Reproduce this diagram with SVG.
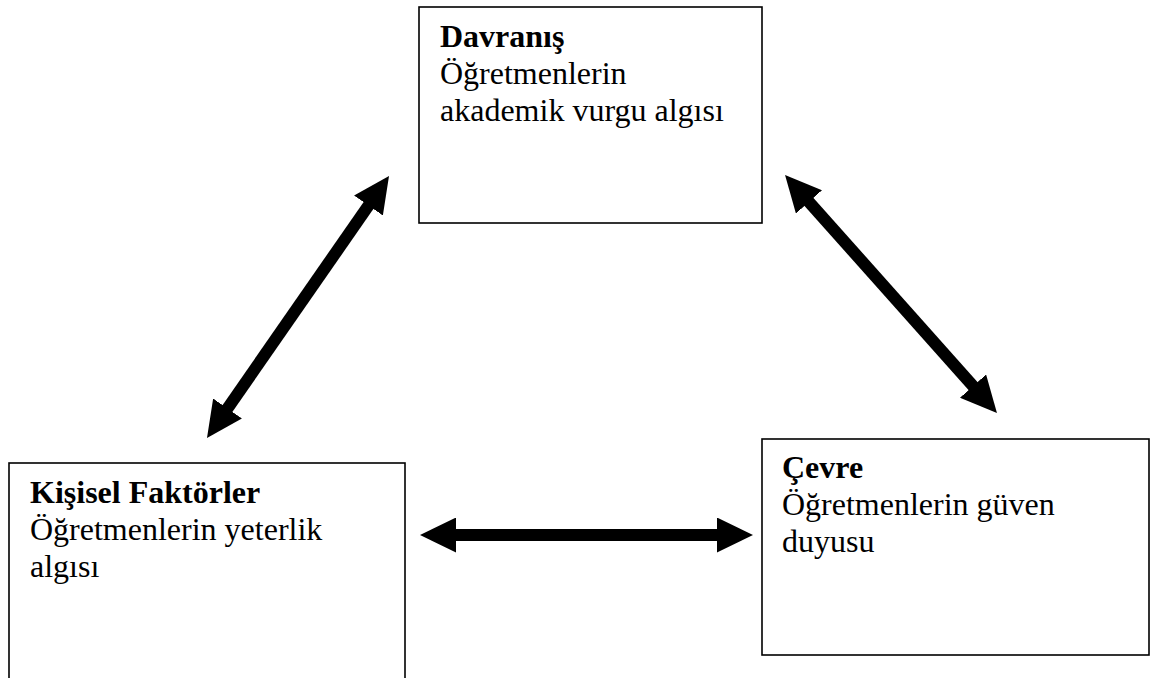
<svg xmlns="http://www.w3.org/2000/svg" width="1153" height="678" viewBox="0 0 1153 678">
<style>
.box{fill:#fff;stroke:#000;stroke-width:1.6}
.t{font-family:"Liberation Serif","Times New Roman",serif;font-size:32px;fill:#000}
.b{font-weight:bold}
.arr{stroke:#000;stroke-width:12;fill:none;marker-start:url(#head);marker-end:url(#head)}
</style>
<defs>
<marker id="head" markerUnits="userSpaceOnUse" markerWidth="36" markerHeight="35" refX="6" refY="17.5" orient="auto-start-reverse" viewBox="0 0 36 35">
<path d="M0,0 L36,17.5 L0,35 z" fill="#000"/>
</marker>
</defs>
<rect width="1153" height="678" fill="#fff"/>
<g id="davranis">
<rect class="box" x="419" y="7" width="343" height="216"/>
<text class="t b" x="440" y="47">Davranış</text>
<text class="t" x="440" y="84">Öğretmenlerin</text>
<text class="t" x="440" y="121">akademik vurgu algısı</text>
</g>
<g id="kisisel">
<rect class="box" x="9" y="463" width="396" height="240"/>
<text class="t b" x="30" y="503">Kişisel Faktörler</text>
<text class="t" x="30" y="540">Öğretmenlerin yeterlik</text>
<text class="t" x="30" y="577">algısı</text>
</g>
<g id="cevre">
<rect class="box" x="762" y="439" width="387" height="216"/>
<text class="t b" x="782" y="478">Çevre</text>
<text class="t" x="782" y="515">Öğretmenlerin güven</text>
<text class="t" x="782" y="552">duyusu</text>
</g>
<g id="connectors">
<line class="arr" x1="224.1" y1="413.4" x2="371.9" y2="200.6"/>
<line class="arr" x1="805" y1="197.4" x2="977" y2="390.6"/>
<line class="arr" x1="450" y1="535" x2="723" y2="535"/>
</g>
</svg>
